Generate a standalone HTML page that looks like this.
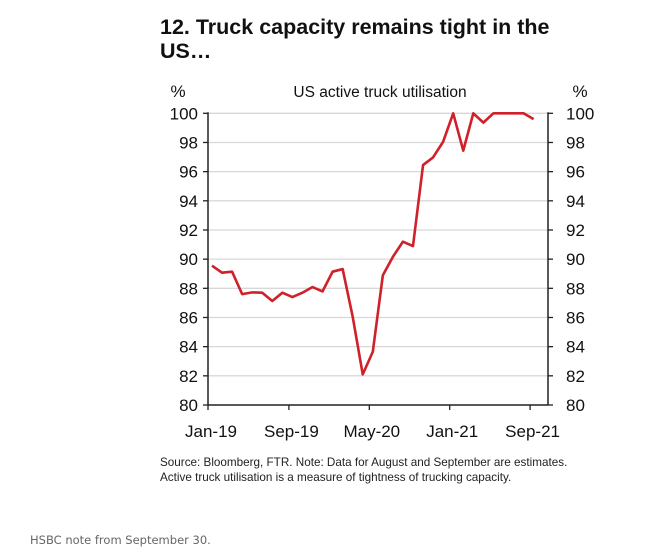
<!DOCTYPE html>
<html><head><meta charset="utf-8"><style>
body{margin:0;background:#fff;width:665px;height:552px;overflow:hidden;font-family:"Liberation Sans",sans-serif;}
</style></head><body>
<div style="position:absolute;left:160px;top:15px;font-weight:bold;font-size:21.5px;line-height:24px;color:#111;">12. Truck capacity remains tight in the<br>US…</div>
<svg id="c" width="665" height="552" style="position:absolute;left:0;top:0"></svg>
<div style="position:absolute;left:160px;top:455px;font-size:11.7px;line-height:15px;color:#222;">Source: Bloomberg, FTR. Note: Data for August and September are estimates.<br>Active truck utilisation is a measure of tightness of trucking capacity.</div>
<div style="position:absolute;left:30px;top:533px;font-family:'DejaVu Sans',sans-serif;font-size:11.5px;color:#666;">HSBC note from September 30.</div>
<script>
const values=[89.55,89.07,89.14,87.6,87.72,87.7,87.13,87.7,87.4,87.7,88.09,87.79,89.14,89.32,86.05,82.1,83.65,88.9,90.16,91.2,90.9,96.45,96.98,98.05,100,97.44,100,99.36,100,100,100,100,99.6];
const yTicks=[80,82,84,86,88,90,92,94,96,98,100];
const xLabels=["Jan-19","Sep-19","May-20","Jan-21","Sep-21"];
const xLabelIdx=[0,8,16,24,32];
const svg=document.getElementById('c');const NS='http://www.w3.org/2000/svg';
const L=208,R=548,T=113.3,B=405;
const x0=212,dx=10.05;
function sx(i){return x0+i*dx;}
function sy(v){return B-(v-80)/20*(B-T);}
function mk(t,a,p){const e=document.createElementNS(NS,t);for(const k in a)e.setAttribute(k,a[k]);(p||svg).appendChild(e);return e;}
let e;
yTicks.forEach(v=>{const y=sy(v);
 if(v>80){e=mk('line',{x1:L,x2:R,y1:y,y2:y,stroke:'#d8d8d8','stroke-width':1.3});
 
 }
 mk('line',{x1:L-5,x2:L,y1:y,y2:y,stroke:'#222','stroke-width':1.3});
 mk('line',{x1:R,x2:R+5,y1:y,y2:y,stroke:'#222','stroke-width':1.3});
 e=mk('text',{x:L-10,y:y+6,'text-anchor':'end','font-size':17,fill:'#111'});e.textContent=v;
 
 
 e=mk('text',{x:R+18,y:y+6,'font-size':17,fill:'#111'});e.textContent=v;
 
 
});
e=mk('line',{x1:L,x2:L,y1:T-1,y2:B,stroke:'#222','stroke-width':1.5});


e=mk('line',{x1:R,x2:R,y1:T-1,y2:B,stroke:'#222','stroke-width':1.5});


e=mk('line',{x1:L,x2:R,y1:B,y2:B,stroke:'#222','stroke-width':1.5});


xLabelIdx.forEach((idx,k)=>{const x=idx===0?L:sx(idx)-3.5;
 mk('line',{x1:x,x2:x,y1:B,y2:B+5,stroke:'#222','stroke-width':1.3});
 e=mk('text',{x:sx(idx)-1,y:B+32,'text-anchor':'middle','font-size':17,fill:'#111'});e.textContent=xLabels[k];
 
 
});
e=mk('polyline',{points:values.map((v,i)=>sx(i)+','+sy(v)).join(' '),fill:'none',stroke:'#d0202a','stroke-width':2.6,'stroke-linejoin':'round'});


e=mk('text',{x:380,y:97,'text-anchor':'middle','font-size':15.5,fill:'#111'});e.textContent='US active truck utilisation';


e=mk('text',{x:178,y:97,'text-anchor':'middle','font-size':17,fill:'#111'});e.textContent='%';


e=mk('text',{x:580,y:97,'text-anchor':'middle','font-size':17,fill:'#111'});e.textContent='%';


</script>
</body></html>
